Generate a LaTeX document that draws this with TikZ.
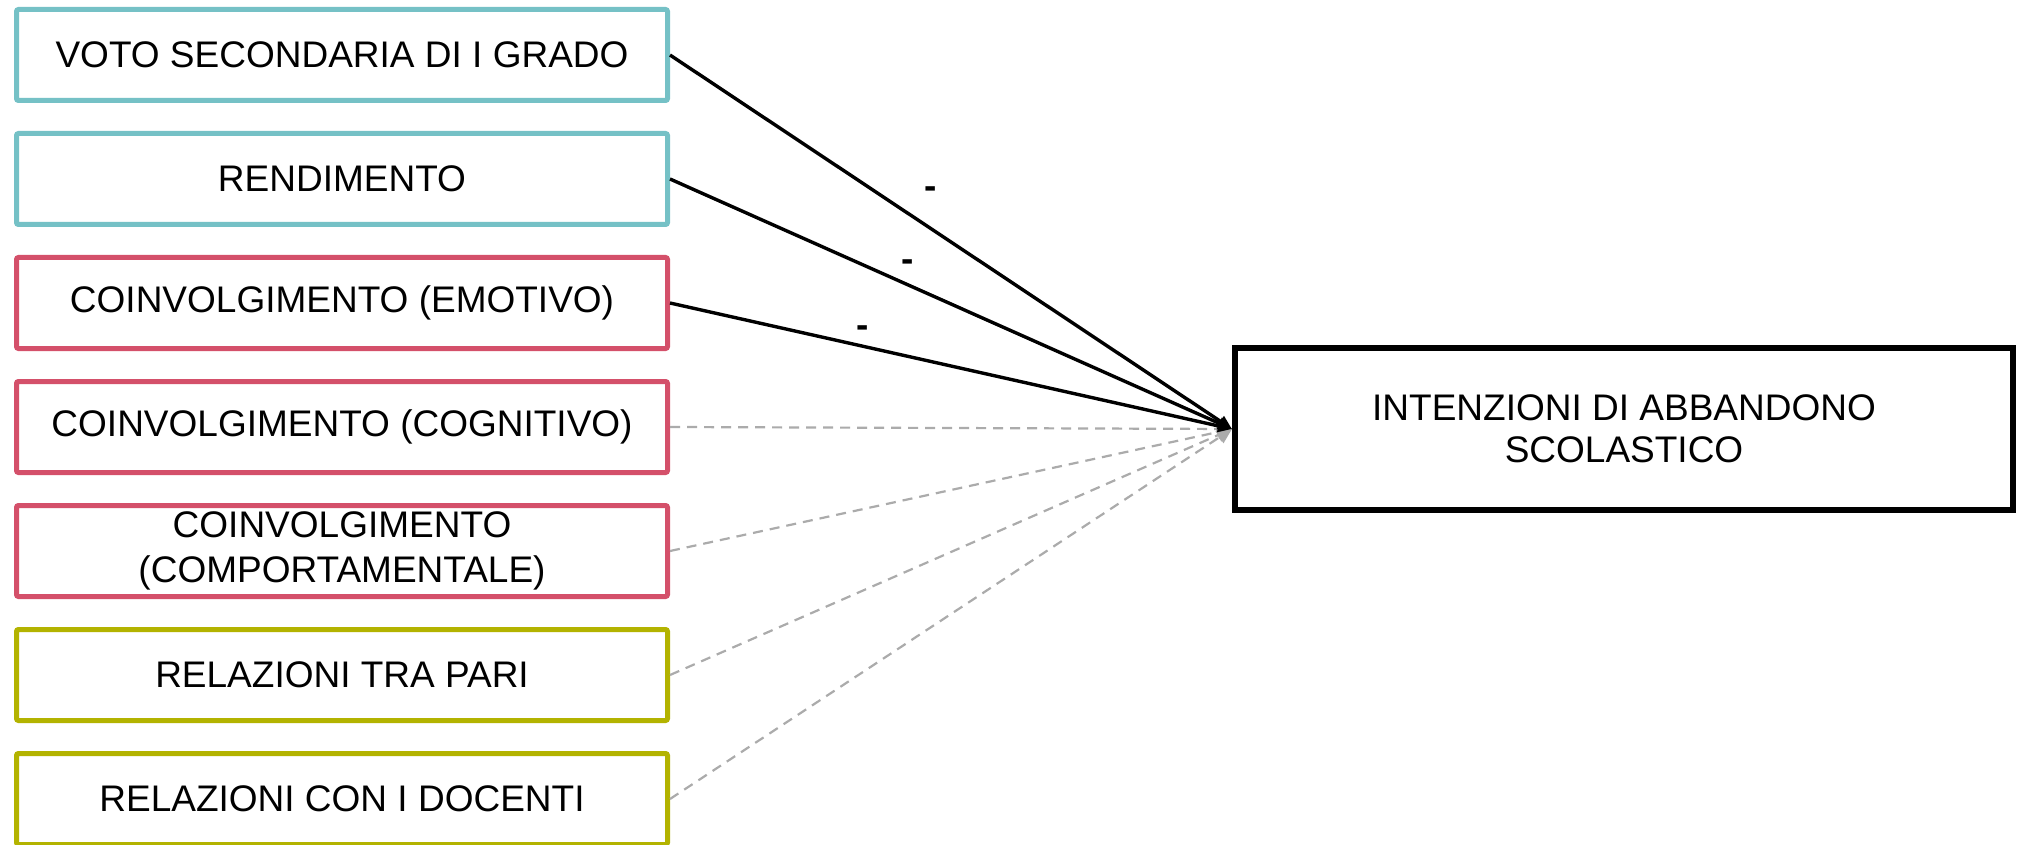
\documentclass[tikz,border=0pt]{standalone}
\usepackage{fontspec}
\setmainfont{Liberation Sans}
\usetikzlibrary{arrows.meta}
\definecolor{tealbox}{HTML}{75C1C6}
\definecolor{rosebox}{HTML}{D4506A}
\definecolor{olivebox}{HTML}{B3B300}
\definecolor{nulline}{HTML}{ABABAB}

\begin{document}
\begin{tikzpicture}[x=0.5pt,y=-0.5pt,
	predbox/.style={draw=#1,line width=2.5pt,rounded corners=1pt,fill=white,minimum width=325.5pt,minimum height=45.5pt,inner sep=0pt,align=center,font=\fontsize{18.5}{22.5}\selectfont},
	outbox/.style={draw,line width=3pt,fill=white,minimum width=389pt,minimum height=81pt,inner sep=0pt,align=center,font=\fontsize{18.5}{21}\selectfont},
	sigpath/.style={line width=1.7pt,-{Triangle[length=7pt,width=6pt]}},
	nulpath/.style={nulline,line width=1.1pt,dash pattern=on 5pt off 3.5pt,-{Triangle[length=7.5pt,width=7pt]}},
	sign/.style={anchor=base,inner sep=0pt,font=\fontsize{18.5}{22}\selectfont\bfseries}]
	\useasboundingbox (0,0) rectangle (2017,845);
	
	\node[predbox=tealbox] (voto) at (342,55) {VOTO SECONDARIA DI I GRADO};
	\node[predbox=tealbox] (rend) at (342,179) {RENDIMENTO};
	\node[predbox=rosebox] (emot) at (342,303) {COINVOLGIMENTO (EMOTIVO)};
	\node[predbox=rosebox] (cogn) at (342,427) {COINVOLGIMENTO (COGNITIVO)};
	\node[predbox=rosebox] (comp) at (342,551) {COINVOLGIMENTO\\(COMPORTAMENTALE)};
	\node[predbox=olivebox] (pari) at (342,675) {RELAZIONI TRA PARI};
	\node[predbox=olivebox] (doce) at (342,799) {RELAZIONI CON I DOCENTI};
	
	\node[outbox] (abba) at (1624,429) {INTENZIONI DI ABBANDONO\\SCOLASTICO};
	
	\draw[nulpath] (cogn.east) -- (abba.west);
	\draw[nulpath] (comp.east) -- (abba.west);
	\draw[nulpath] (pari.east) -- (abba.west);
	\draw[nulpath] (doce.east) -- (abba.west);
	
	\draw[sigpath] (voto.east) -- (abba.west);
	\draw[sigpath] (rend.east) -- (abba.west);
	\draw[sigpath] (emot.east) -- (abba.west);
	
	\node[sign] (svoto) at (931,199) {-};
	\node[sign] (srend) at (908,271) {-};
	\node[sign] (semot) at (863,337) {-};
	
\end{tikzpicture}
\end{document}
